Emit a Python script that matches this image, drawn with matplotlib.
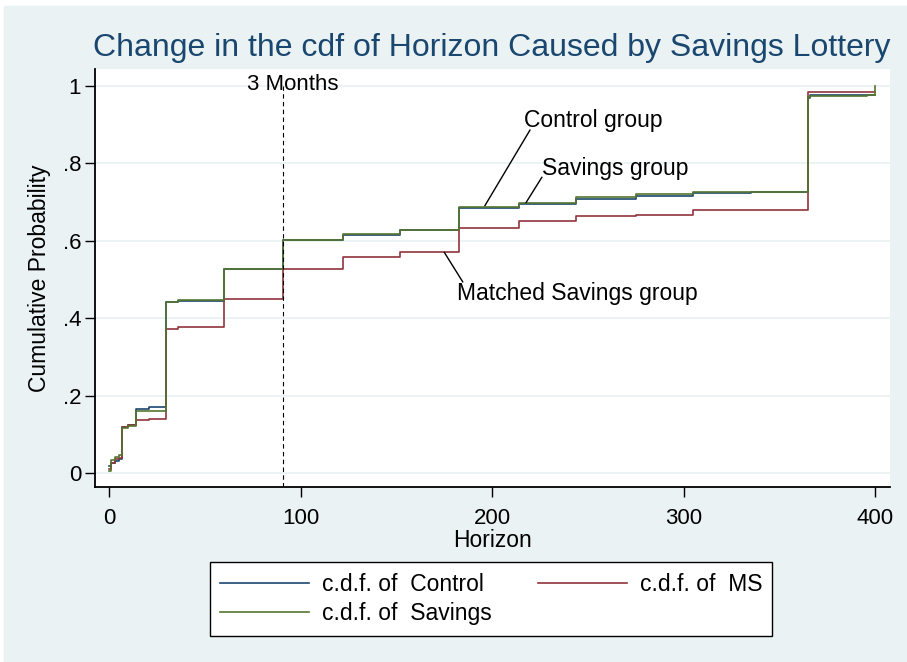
import matplotlib
matplotlib.use("Agg")
import matplotlib.pyplot as plt
from matplotlib.patches import Rectangle

plt.rcParams["font.family"] = ["Liberation Sans", "DejaVu Sans"]

# step points of the three empirical cdfs (days)
horizon = [0, 1, 3, 5, 7, 10, 14, 21, 30, 36, 60, 91, 122, 152, 183, 214,
           244, 275, 305, 335, 365, 366, 396, 400]
cdf_control = [0.018, 0.025, 0.030, 0.037, 0.118, 0.125, 0.166, 0.171, 0.441,
               0.445, 0.527, 0.602, 0.616, 0.628, 0.686, 0.696, 0.709, 0.717,
               0.724, 0.726, 0.970, 0.978, 0.978, 0.978]
cdf_ms = [0.010, 0.025, 0.035, 0.040, 0.118, 0.125, 0.137, 0.140, 0.372,
          0.377, 0.450, 0.527, 0.558, 0.572, 0.632, 0.651, 0.665, 0.667,
          0.680, 0.680, 0.984, 0.984, 0.984, 0.984]
cdf_savings = [0.005, 0.034, 0.042, 0.046, 0.116, 0.122, 0.161, 0.161, 0.443,
               0.447, 0.527, 0.602, 0.617, 0.629, 0.688, 0.698, 0.712, 0.721,
               0.726, 0.726, 0.972, 0.975, 0.978, 1.0]

x_ticks = [0, 100, 200, 300, 400]
y_ticks = [0, 0.2, 0.4, 0.6, 0.8, 1.0]
y_tick_labels = ["0", ".2", ".4", ".6", ".8", "1"]

NAVY = "#1A476F"
MAROON = "#90353B"
GREEN = "#55752F"
BG = "#EAF2F3"

W, H = 907, 662
fig = plt.figure(figsize=(W / 100, H / 100), dpi=100, facecolor="white")
fig.patches.append(Rectangle((4 / W, 0), 1 - 4 / W, 1 - 6 / H,
                             transform=fig.transFigure, color=BG, zorder=-1))

ax = fig.add_axes([95 / W, 1 - 487 / H, (890 - 95) / W, (487 - 69) / H])
ax.set_facecolor("white")

ax.step(horizon, cdf_control, where="post", color=NAVY, lw=1.2, label="c.d.f. of  Control")
ax.step(horizon, cdf_ms, where="post", color=MAROON, lw=1.2, label="c.d.f. of  MS")
ax.step(horizon, cdf_savings, where="post", color=GREEN, lw=1.2, label="c.d.f. of  Savings")

ax.set_xlim(-7.3, 407.8)
ax.set_ylim(-0.0362, 1.044)

# 3 months marker
ax.vlines(91, -0.0362, 1.0, colors="black", linestyles=(0, (4, 3)), lw=0.8)
ax.text(96, 1.003, "3 Months", ha="center", va="center", fontsize=16)

# group labels with pointer lines
ax.plot([196.3, 219.8], [0.691, 0.886], color="black", lw=1)
ax.text(216.7, 0.912, "Control group", ha="left", va="center", fontsize=16.5)
ax.plot([217.8, 226.0], [0.699, 0.764], color="black", lw=1)
ax.text(226.1, 0.786, "Savings group", ha="left", va="center", fontsize=16.5)
ax.plot([175.1, 184.7], [0.570, 0.494], color="black", lw=1)
ax.text(181.7, 0.463, "Matched Savings group", ha="left", va="center", fontsize=16.5)

ax.set_xticks(x_ticks)
ax.set_yticks(y_ticks)
ax.set_yticklabels(y_tick_labels)
ax.tick_params(axis="both", labelsize=16, length=7, width=1, color="black")
ax.tick_params(axis="y", pad=3)
ax.tick_params(axis="x", pad=8)
ax.grid(axis="y", color=BG, lw=1.3)
ax.set_axisbelow(True)
for side in ["top", "right"]:
    ax.spines[side].set_visible(False)
for side in ["left", "bottom"]:
    ax.spines[side].set_linewidth(1.3)

ax.set_xlabel("Horizon", fontsize=16.5, labelpad=0)
ax.set_ylabel("Cumulative Probability", fontsize=16.5, labelpad=8)
fig.suptitle("Change in the cdf of Horizon Caused by Savings Lottery",
             x=492 / W, y=1 - 48 / H, va="center", fontsize=23, color=NAVY)

handles, labels = ax.get_legend_handles_labels()
order = [0, 2, 1]
leg = fig.legend([handles[i] for i in order], [labels[i] for i in order],
                 ncol=2, loc="center", bbox_to_anchor=(491 / W, 1 - 599 / H),
                 fontsize=16.5, handlelength=3.9, handletextpad=0.55,
                 columnspacing=2.0, labelspacing=0.3, borderpad=0.45,
                 fancybox=False, frameon=True, framealpha=1)
leg.get_frame().set_edgecolor("black")
leg.get_frame().set_linewidth(1.0)

fig.savefig("out.png", dpi=100, facecolor=fig.get_facecolor())
